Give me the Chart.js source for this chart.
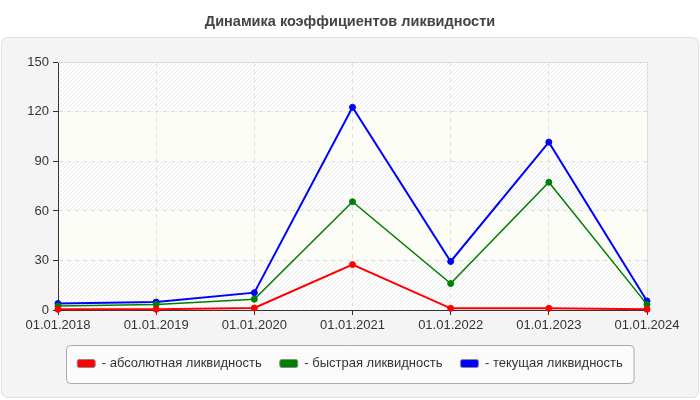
<!DOCTYPE html>
<html>
<head>
<meta charset="utf-8">
<script src="https://cdn.jsdelivr.net/npm/chart.js@4"></script>
<style>
  html, body { margin: 0; padding: 0; background: #fff; }
  #wrap { width: 700px; height: 400px; }
</style>
</head>
<body>
<div id="wrap"><canvas id="liquidity"></canvas></div>
<script>
const chartTitle = "Динамика коэффициентов ликвидности";
const dates = ["01.01.2018", "01.01.2019", "01.01.2020", "01.01.2021", "01.01.2022", "01.01.2023", "01.01.2024"];
const seriesNames = ["абсолютная ликвидность", "быстрая ликвидность", "текущая ликвидность"];
const seriesColors = ["#ff0000", "#008000", "#0000ff"];
const absoluteRatio = [0.4, 0.4, 1.2, 27.5, 1.0, 1.0, 0.4];
const quickRatio = [2.4, 3.4, 6.5, 65.6, 16.0, 77.4, 3.4];
const currentRatio = [3.9, 4.8, 10.5, 122.8, 29.4, 101.7, 5.5];
const yTicks = [0, 30, 60, 90, 120, 150];

const fontFamily = "'Liberation Sans', Arial, sans-serif";

// Diagonal hatch used for every other horizontal band of the plot area.
function makeHatch(ctx) {
  const tile = document.createElement("canvas");
  tile.width = 4;
  tile.height = 4;
  const t = tile.getContext("2d");
  t.fillStyle = "#ffffff";
  t.fillRect(0, 0, 4, 4);
  t.strokeStyle = "#ebebeb";
  t.lineWidth = 1;
  t.beginPath();
  t.moveTo(0, 4);
  t.lineTo(4, 0);
  t.moveTo(-1, 1);
  t.lineTo(1, -1);
  t.moveTo(3, 5);
  t.lineTo(5, 3);
  t.stroke();
  return ctx.createPattern(tile, "repeat");
}

const panelPlugin = {
  id: "panel",
  afterLayout(chart) {
    // centre title and legend on the whole canvas, not on the padded area
    [chart.legend, chart.titleBlock].forEach((box) => {
      if (!box) return;
      const shift = (chart.width - (box.left + box.right)) / 2;
      box.left += shift;
      box.right += shift;
    });
  },
  beforeDraw(chart) {
    const { ctx, chartArea, scales } = chart;
    ctx.save();

    // grey rounded panel under the chart
    ctx.fillStyle = "#f4f4f4";
    ctx.strokeStyle = "#e0e0e0";
    ctx.lineWidth = 1;
    ctx.beginPath();
    ctx.roundRect(1.5, 37.5, 697, 360, 6);
    ctx.fill();
    ctx.stroke();

    // banded plot background
    const hatch = makeHatch(ctx);
    for (let i = 0; i < yTicks.length - 1; i++) {
      const yBottom = scales.y.getPixelForValue(yTicks[i]);
      const yTop = scales.y.getPixelForValue(yTicks[i + 1]);
      ctx.fillStyle = i % 2 === 0 ? hatch : "#fdfdf8";
      ctx.fillRect(chartArea.left, yTop, chartArea.right - chartArea.left, yBottom - yTop);
    }

    // framed box around the legend
    const boxes = chart.legend && chart.legend.legendHitBoxes;
    if (boxes && boxes.length) {
      const left = Math.min(...boxes.map((b) => b.left)) - 11;
      const right = Math.max(...boxes.map((b) => b.left + b.width)) + 11;
      const mid = boxes[0].top + boxes[0].height / 2;
      ctx.fillStyle = "#fbfbfb";
      ctx.strokeStyle = "#aaaaaa";
      ctx.beginPath();
      ctx.roundRect(Math.round(left) + 0.5, Math.round(mid - 19) + 0.5, right - left, 38, 4);
      ctx.fill();
      ctx.stroke();
    }
    ctx.restore();
  },
  beforeDatasetsDraw(chart) {
    const { ctx, chartArea } = chart;
    ctx.save();
    ctx.strokeStyle = "#dddddd";
    ctx.lineWidth = 1;
    ctx.beginPath();
    ctx.moveTo(chartArea.left, Math.round(chartArea.top) + 0.5);
    ctx.lineTo(Math.round(chartArea.right) + 0.5, Math.round(chartArea.top) + 0.5);
    ctx.lineTo(Math.round(chartArea.right) + 0.5, chartArea.bottom);
    ctx.stroke();
    ctx.restore();
  }
};

const seriesValues = [absoluteRatio, quickRatio, currentRatio];

new Chart(document.getElementById("liquidity"), {
  type: "line",
  data: {
    labels: dates,
    datasets: seriesNames.map((name, i) => ({
      label: name,
      data: seriesValues[i],
      borderColor: seriesColors[i],
      backgroundColor: seriesColors[i],
      pointBackgroundColor: seriesColors[i],
      pointBorderColor: seriesColors[i],
      borderWidth: i === 1 ? 1.5 : 2,
      pointRadius: 3,
      pointBorderWidth: 1,
      tension: 0,
      clip: false
    }))
  },
  options: {
    responsive: true,
    maintainAspectRatio: false,
    animation: false,
    layout: {
      padding: { top: 0, left: 0, right: 53, bottom: 20 }
    },
    plugins: {
      title: {
        display: true,
        text: chartTitle,
        color: "#444444",
        font: { family: fontFamily, size: 14.5, weight: "bold" },
        padding: { top: 13, bottom: 32 }
      },
      legend: {
        display: true,
        position: "bottom",
        labels: {
          boxWidth: 18,
          boxHeight: 8,
          padding: 18,
          useBorderRadius: true,
          borderRadius: 2,
          color: "#333333",
          font: { family: fontFamily, size: 13 },
          generateLabels: (chart) =>
            chart.data.datasets.map((ds, i) => ({
              text: `- ${ds.label}`,
              fillStyle: seriesColors[i],
              strokeStyle: "#888888",
              lineWidth: 1,
              fontColor: "#333333",
              borderRadius: 2,
              hidden: false,
              datasetIndex: i
            }))
        }
      },
      tooltip: { enabled: false }
    },
    scales: {
      x: {
        type: "category",
        offset: false,
        grid: {
          color: "#dcdcdc",
          tickColor: "#333333",
          tickBorderDash: [],
          tickLength: 5
        },
        border: { color: "#333333", width: 1, dash: [4, 4] },
        ticks: {
          color: "#333333",
          padding: 3,
          maxRotation: 0,
          autoSkip: false,
          font: { family: fontFamily, size: 13 }
        },
        afterFit: (scale) => {
          scale.height = 29;
        }
      },
      y: {
        min: 0,
        max: 150,
        grid: {
          color: "#dcdcdc",
          tickColor: "#333333",
          tickBorderDash: [],
          tickLength: 5
        },
        border: { color: "#333333", width: 1, dash: [4, 4] },
        ticks: {
          stepSize: 30,
          color: "#333333",
          padding: 4,
          font: { family: fontFamily, size: 13 }
        },
        afterFit: (scale) => {
          scale.width = 58;
        }
      }
    }
  },
  plugins: [panelPlugin]
});
</script>
</body>
</html>
